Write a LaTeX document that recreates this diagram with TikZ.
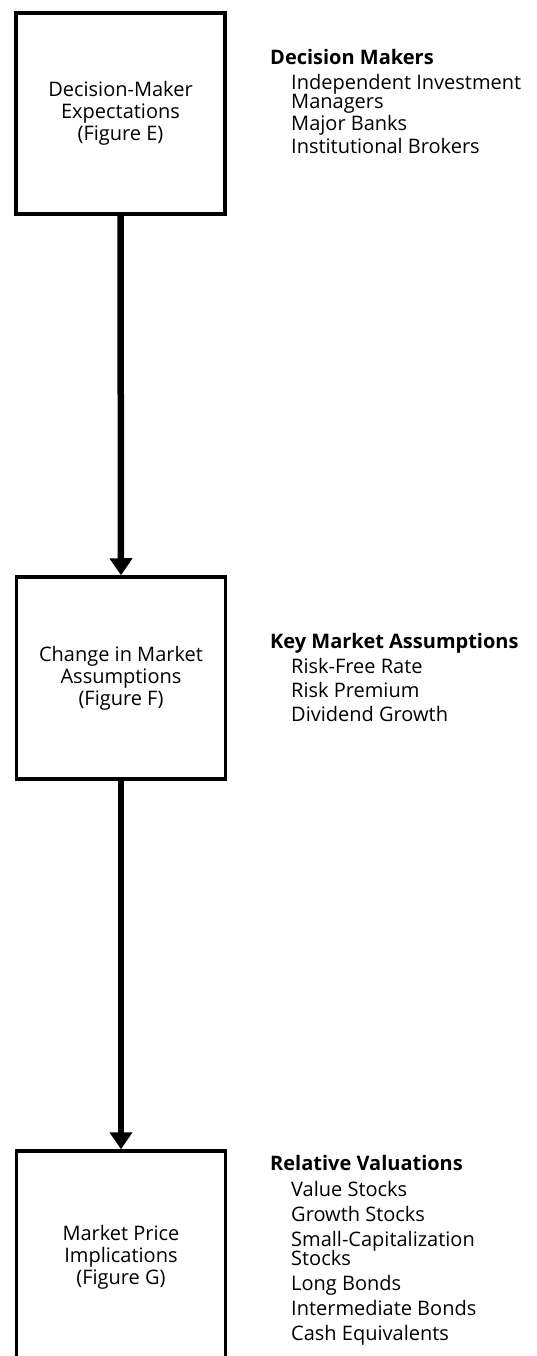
\documentclass[tikz,border=0pt]{standalone}
\usepackage{fontspec}
\setmainfont{Open Sans}
\usetikzlibrary{arrows.meta}
\begin{document}
\begin{tikzpicture}[x=1pt,y=-1pt,
  stage/.style={draw, line width=3.5pt, minimum width=209pt, minimum height=201pt,
    inner sep=0pt, align=center, font=\fontsize{20}{22}\selectfont},
  flow/.style={line width=6.5pt, -{Triangle[width=22pt,length=17pt]}},
  head/.style={anchor=base west, inner sep=0pt, font=\fontsize{20}{22}\selectfont\bfseries},
  item/.style={anchor=base west, inner sep=0pt, font=\fontsize{20}{22}\selectfont}]
\useasboundingbox (0,0) rectangle (537,1356);
\clip (0,0) rectangle (537,1356);

% the three stages
\node[stage] (E) at (120.5,113.5) {Decision-Maker\\Expectations\\(Figure E)};
\node[stage, minimum height=202pt] (F) at (121,678) {Change in Market\\Assumptions\\(Figure F)};
\node[stage, minimum height=212pt] (G) at (121,1257) {Market Price\\Implications\\(Figure G)};

% flow between stages
\draw[flow] (E.south) -- (F.north);
\draw[flow] (F.south) -- (G.north);

% decision makers
\node[head] (h1) at (270,65) {Decision Makers};
\node[item] (a1) at (291,90) {Independent Investment};
\node[item] (a2) at (291,109) {Managers};
\node[item] (a3) at (291,131) {Major Banks};
\node[item] (a4) at (291,154) {Institutional Brokers};

% key market assumptions
\node[head] (h2) at (270,648) {Key Market Assumptions};
\node[item] (b1) at (291,673) {Risk-Free Rate};
\node[item] (b2) at (291,697) {Risk Premium};
\node[item] (b3) at (291,721) {Dividend Growth};

% relative valuations
\node[head] (h3) at (270,1170) {Relative Valuations};
\node[item] (c1) at (291,1196) {Value Stocks};
\node[item] (c2) at (291,1221) {Growth Stocks};
\node[item] (c3) at (291,1246) {Small-Capitalization};
\node[item] (c4) at (291,1265) {Stocks};
\node[item] (c5) at (291,1290) {Long Bonds};
\node[item] (c6) at (291,1315) {Intermediate Bonds};
\node[item] (c7) at (291,1340) {Cash Equivalents};
\end{tikzpicture}
\end{document}
